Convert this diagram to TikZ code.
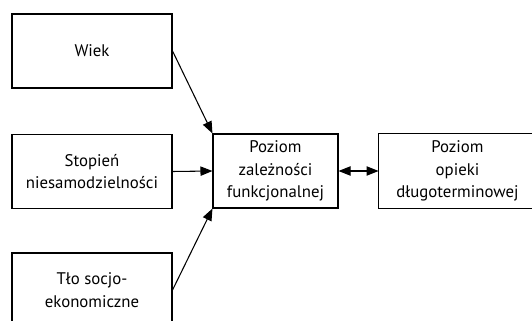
\documentclass[tikz,border=0pt]{standalone}
\usepackage{fontspec}
\setmainfont{PT Sans}
\usetikzlibrary{arrows.meta}
\tikzset{
  boxnode/.style={draw, line width=0.8pt, align=center, inner sep=0pt,
    font=\fontsize{12.6}{16.9}\selectfont},
  textonly/.style={align=center, inner sep=0pt, font=\fontsize{12.6}{16.9}\selectfont},
  conn/.style={line width=0.8pt, -{Triangle[length=9pt,width=7pt]}},
  dconn/.style={line width=0.8pt, {Triangle[length=9pt,width=7pt]}-{Triangle[length=9pt,width=7pt]}}
}
\begin{document}
\begin{tikzpicture}[x=0.75pt,y=-0.75pt]
\useasboundingbox (0,0) rectangle (532,321);
\clip (0,0) rectangle (532,321);
\node[boxnode, minimum width=120pt, minimum height=55.5pt] (wiek) at (92,51) {Wiek};
\node[boxnode, minimum width=120pt, minimum height=55pt] (stop) at (92,171.5) {Stopień\\niesamodzielności};
\node[boxnode, minimum width=120pt, minimum height=55.5pt] (tlo) at (92,290) {Tło socjo-\\ekonomiczne};
\node[boxnode, minimum width=93.75pt, minimum height=55.5pt] (mid) at (275.5,171) {Poziom\\zależności\\funkcjonalnej};
\node[textonly, minimum width=118pt, minimum height=55.5pt] (right) at (457.5,171) {Poziom\\opieki\\długoterminowej};
\draw[line width=0.8pt] (right.north west) rectangle ([xshift=30pt]right.south east);
\draw[conn] (wiek.east) -- (mid.north west);
\draw[conn] (stop.east) -- (mid.west);
\draw[conn] (tlo.east) -- (mid.south west);
\draw[dconn] (mid.east) -- (right.west);
\end{tikzpicture}
\end{document}
